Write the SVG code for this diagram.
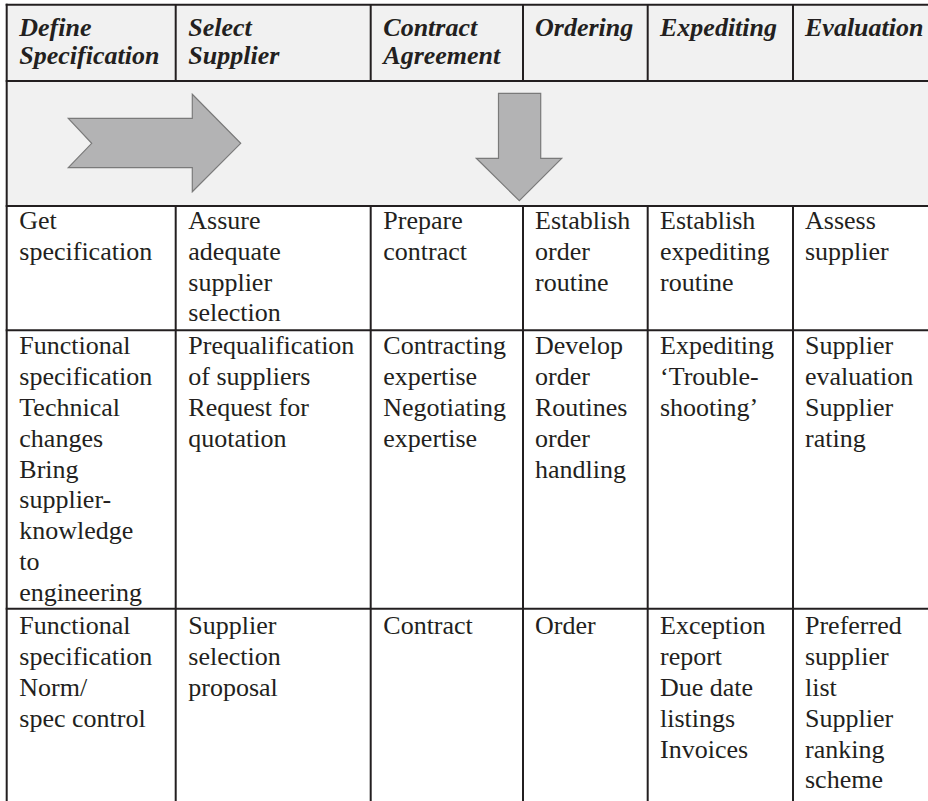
<svg xmlns="http://www.w3.org/2000/svg" width="928" height="801" viewBox="0 0 928 801">
<style>
  .hd { font-weight: bold; font-style: italic; }
  .ln { stroke: #231f20; stroke-width: 2; fill: none; }
  .arrow { fill: #b3b3b4; stroke: #7a7a7a; stroke-width: 1.2; }
</style>
<rect width="928" height="801" fill="#ffffff"/>
<g id="bands">
  <rect x="6.7" y="4.7" width="921.3" height="201.3" fill="#f1f1f1"/>
</g>
<g id="grid" class="ln">
  <line x1="5.7" y1="4.7" x2="928" y2="4.7"/>
  <line x1="5.7" y1="81" x2="928" y2="81"/>
  <line x1="5.7" y1="206" x2="928" y2="206"/>
  <line x1="5.7" y1="330.3" x2="928" y2="330.3"/>
  <line x1="5.7" y1="608.7" x2="928" y2="608.7"/>
  <line x1="6.7" y1="3.7" x2="6.7" y2="801"/>
  <line x1="175.7" y1="4.7" x2="175.7" y2="81"/>
  <line x1="370.7" y1="4.7" x2="370.7" y2="81"/>
  <line x1="523" y1="4.7" x2="523" y2="81"/>
  <line x1="647.7" y1="4.7" x2="647.7" y2="81"/>
  <line x1="793" y1="4.7" x2="793" y2="81"/>
  <line x1="175.7" y1="206" x2="175.7" y2="801"/>
  <line x1="370.7" y1="206" x2="370.7" y2="801"/>
  <line x1="523" y1="206" x2="523" y2="801"/>
  <line x1="647.7" y1="206" x2="647.7" y2="801"/>
  <line x1="793" y1="206" x2="793" y2="801"/>
</g>
<g id="connectors">
  <polygon id="arrow-right" class="arrow" points="68.3,118.3 192.3,118.3 192.3,94.3 240.7,143.3 192.3,191.7 192.3,167.7 68.3,167.7 91.7,143.3"/>
  <polygon id="arrow-down" class="arrow" points="498.5,93.3 540.7,93.3 540.7,158.3 561.7,158.3 519.3,200.7 476.3,158.3 498.5,158.3"/>
</g>
<g id="cells" font-family="Liberation Serif, Tinos, Times New Roman, Times, Noto Serif, FreeSerif, DejaVu Serif, serif" font-size="26" fill="#231f20">
<g id="header-define"><text class="hd"><tspan x="19.3" y="35.7">Define</tspan><tspan x="19.3" y="63.5">Specification</tspan></text></g>
<g id="header-select"><text class="hd"><tspan x="188.3" y="35.7">Select</tspan><tspan x="188.3" y="63.5">Supplier</tspan></text></g>
<g id="header-contract"><text class="hd"><tspan x="383.3" y="35.7">Contract</tspan><tspan x="383.3" y="63.5">Agreement</tspan></text></g>
<g id="header-ordering"><text class="hd"><tspan x="535" y="35.7">Ordering</tspan></text></g>
<g id="header-expediting"><text class="hd"><tspan x="660" y="35.7">Expediting</tspan></text></g>
<g id="header-evaluation"><text class="hd"><tspan x="805" y="35.7">Evaluation</tspan></text></g>

<g id="r1c1"><text><tspan x="19.3" y="229">Get</tspan><tspan x="19.3" dy="30.8">specification</tspan></text></g>
<g id="r1c2"><text><tspan x="188.3" y="229">Assure</tspan><tspan x="188.3" dy="30.8">adequate</tspan><tspan x="188.3" dy="30.8">supplier</tspan><tspan x="188.3" dy="30.8">selection</tspan></text></g>
<g id="r1c3"><text><tspan x="383.3" y="229">Prepare</tspan><tspan x="383.3" dy="30.8">contract</tspan></text></g>
<g id="r1c4"><text><tspan x="535" y="229">Establish</tspan><tspan x="535" dy="30.8">order</tspan><tspan x="535" dy="30.8">routine</tspan></text></g>
<g id="r1c5"><text><tspan x="660" y="229">Establish</tspan><tspan x="660" dy="30.8">expediting</tspan><tspan x="660" dy="30.8">routine</tspan></text></g>
<g id="r1c6"><text><tspan x="805" y="229">Assess</tspan><tspan x="805" dy="30.8">supplier</tspan></text></g>

<g id="r2c1"><text><tspan x="19.3" y="354.3">Functional</tspan><tspan x="19.3" dy="30.8">specification</tspan><tspan x="19.3" dy="30.8">Technical</tspan><tspan x="19.3" dy="30.8">changes</tspan><tspan x="19.3" dy="30.8">Bring</tspan><tspan x="19.3" dy="30.8">supplier-</tspan><tspan x="19.3" dy="30.8">knowledge</tspan><tspan x="19.3" dy="30.8">to</tspan><tspan x="19.3" dy="30.8">engineering</tspan></text></g>
<g id="r2c2"><text><tspan x="188.3" y="354.3">Prequalification</tspan><tspan x="188.3" dy="30.8">of suppliers</tspan><tspan x="188.3" dy="30.8">Request for</tspan><tspan x="188.3" dy="30.8">quotation</tspan></text></g>
<g id="r2c3"><text><tspan x="383.3" y="354.3">Contracting</tspan><tspan x="383.3" dy="30.8">expertise</tspan><tspan x="383.3" dy="30.8">Negotiating</tspan><tspan x="383.3" dy="30.8">expertise</tspan></text></g>
<g id="r2c4"><text><tspan x="535" y="354.3">Develop</tspan><tspan x="535" dy="30.8">order</tspan><tspan x="535" dy="30.8">Routines</tspan><tspan x="535" dy="30.8">order</tspan><tspan x="535" dy="30.8">handling</tspan></text></g>
<g id="r2c5"><text><tspan x="660" y="354.3">Expediting</tspan><tspan x="660" dy="30.8">‘Trouble-</tspan><tspan x="660" dy="30.8">shooting’</tspan></text></g>
<g id="r2c6"><text><tspan x="805" y="354.3">Supplier</tspan><tspan x="805" dy="30.8">evaluation</tspan><tspan x="805" dy="30.8">Supplier</tspan><tspan x="805" dy="30.8">rating</tspan></text></g>

<g id="r3c1"><text><tspan x="19.3" y="634.3">Functional</tspan><tspan x="19.3" dy="30.8">specification</tspan><tspan x="19.3" dy="30.8">Norm/</tspan><tspan x="19.3" dy="30.8">spec control</tspan></text></g>
<g id="r3c2"><text><tspan x="188.3" y="634.3">Supplier</tspan><tspan x="188.3" dy="30.8">selection</tspan><tspan x="188.3" dy="30.8">proposal</tspan></text></g>
<g id="r3c3"><text><tspan x="383.3" y="634.3">Contract</tspan></text></g>
<g id="r3c4"><text><tspan x="535" y="634.3">Order</tspan></text></g>
<g id="r3c5"><text><tspan x="660" y="634.3">Exception</tspan><tspan x="660" dy="30.8">report</tspan><tspan x="660" dy="30.8">Due date</tspan><tspan x="660" dy="30.8">listings</tspan><tspan x="660" dy="30.8">Invoices</tspan></text></g>
<g id="r3c6"><text><tspan x="805" y="634.3">Preferred</tspan><tspan x="805" dy="30.8">supplier</tspan><tspan x="805" dy="30.8">list</tspan><tspan x="805" dy="30.8">Supplier</tspan><tspan x="805" dy="30.8">ranking</tspan><tspan x="805" dy="30.8">scheme</tspan></text></g>
</g>
</svg>
